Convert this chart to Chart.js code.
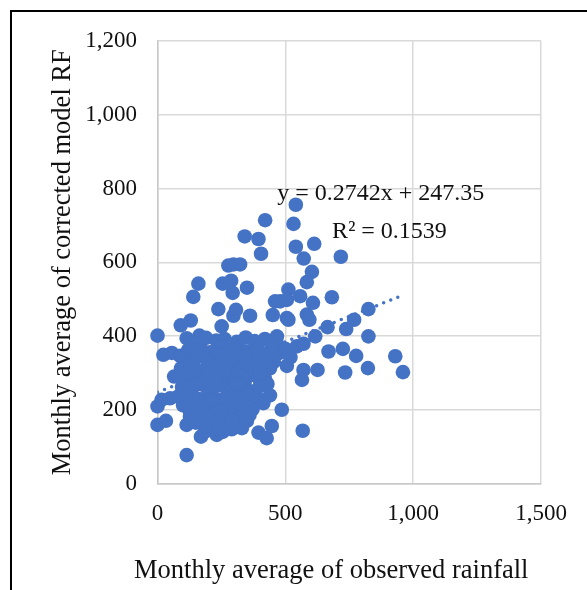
<!DOCTYPE html>
<html>
<head>
<meta charset="utf-8">
<script src="https://cdn.jsdelivr.net/npm/chart.js@4/dist/chart.umd.min.js"></script>
<style>
  html, body { margin: 0; padding: 0; background: #fff; overflow: hidden; }
  #frame {
    position: absolute; left: 10px; top: 10px; width: 700px; height: 700px;
    border: 2px solid #000; box-sizing: border-box;
  }
  #chart { position: absolute; left: 0; top: 0; }
</style>
</head>
<body>
<div id="frame"></div>
<canvas id="chart" width="587" height="590"></canvas>
<script>
// monthly averages: observed rainfall (x) vs corrected model RF (y)
const observed = [
  0, 0, 0, 33, 23, 56, 65, 114, 170, 232, 290, 395, 427, 447, 486, 440, 414, 506, 565, 571,
  626, 568, 473, 512, 669, 725, 734, 777, 823, 960, 930, 825, 825, 769, 738, 665, 617, 545, 571, 584,
  594, 682, 604, 584, 608, 558, 512, 460, 480, 506, 541, 421, 532, 341, 395, 405, 541, 613, 572, 717,
  277, 297, 323, 160, 140, 255, 288, 294, 350, 238, 307, 297, 362, 451, 506, 130, 91, 251, 114, 164,
  467, 16, 49, 81, 127, 114, 401, 401, 464, 477, 88,
  190, 230, 262, 310, 345, 380, 420, 445, 150,
  120, 168, 205, 248, 280, 318, 352, 392, 430, 500,
  100, 140, 185, 222, 262, 298, 335, 372, 410, 455, 520,
  92, 132, 172, 210, 245, 282, 320, 360, 395, 440,
  108, 150, 190, 228, 268, 305, 342, 378, 420, 430,
  96, 135, 175, 212, 250, 290, 330, 365, 400,
  118, 158, 198, 238, 275, 315, 352, 390,
  100, 140, 180, 220, 260, 300, 338, 372,
  128, 168, 205, 245, 285, 320, 360,
  150, 195, 235, 270, 312, 350,
  255, 330,
  160, 240, 300, 380, 200, 280, 350, 120, 200, 260,
  330, 155, 230, 310, 120, 210, 290, 170, 250, 330,
  400, 420, 230, 185, 290
];
const corrected = [
  401, 209, 159, 170, 349, 354, 290, 77, 127, 132, 147, 138, 123, 156, 200, 239, 218, 319, 281, 308,
  308, 143, 354, 444, 358, 365, 301, 346, 313, 302, 345, 399, 473, 444, 419, 424, 399, 372, 379, 458,
  444, 505, 574, 546, 490, 508, 526, 494, 494, 498, 756, 714, 704, 670, 663, 623, 642, 650, 610, 615,
  591, 594, 594, 542, 506, 542, 550, 517, 531, 473, 471, 455, 455, 457, 449, 442, 429, 426, 394, 401,
  399, 227, 231, 236, 181, 159, 317, 281, 390, 354, 346,
  395, 388, 392, 384, 396, 386, 392, 380, 380,
  362, 368, 356, 372, 360, 368, 358, 366, 352, 365,
  338, 330, 342, 334, 340, 328, 344, 332, 340, 330, 342,
  312, 318, 306, 320, 304, 316, 302, 318, 305, 312,
  288, 292, 280, 294, 282, 290, 278, 294, 284, 270,
  262, 258, 268, 254, 266, 252, 262, 250, 264,
  238, 230, 242, 228, 240, 226, 238, 232,
  212, 206, 218, 204, 214, 200, 210, 202,
  190, 182, 194, 178, 188, 176, 186,
  165, 158, 168, 155, 162, 170,
  140, 150,
  350, 350, 352, 350, 325, 335, 325, 300, 298, 305,
  290, 270, 275, 270, 222, 228, 220, 200, 196, 232,
  300, 330, 150, 140, 170
];

// linear trendline
const slope = 0.2742;
const intercept = 247.35;
const rSquared = 0.1539;

const xTicks = [0, 500, 1000, 1500];
const yTicks = [0, 200, 400, 600, 800, 1000, 1200];

const xTitle = 'Monthly average of observed rainfall';
const yTitle = 'Monthly average of corrected model RF';
const equationText = `y = ${slope}x + ${intercept}`;
const rSquaredText = `R² = ${rSquared}`;

const blue = '#4472C4';
const serif = '"Liberation Serif", "Times New Roman", serif';

const points = observed.map((x, i) => ({ x: x, y: corrected[i] }));
const xMin = Math.min(...observed);
const xMax = Math.max(...observed);
const trend = [
  { x: xMin, y: slope * xMin + intercept },
  { x: xMax, y: slope * xMax + intercept }
];

const fmt = v => v.toLocaleString('en-US');

// equation labels and axis titles
const textLabels = {
  id: 'textLabels',
  afterDraw(chart) {
    const { ctx, chartArea, scales } = chart;
    ctx.save();
    ctx.fillStyle = '#111';
    ctx.textBaseline = 'middle';
    ctx.textAlign = 'left';
    ctx.font = '24px ' + serif;
    ctx.fillText(equationText, scales.x.getPixelForValue(468), scales.y.getPixelForValue(787));
    ctx.fillText(rSquaredText, scales.x.getPixelForValue(683), scales.y.getPixelForValue(683));

    ctx.textAlign = 'center';
    ctx.font = '26.5px ' + serif;
    ctx.fillText(xTitle, (chartArea.left + chartArea.right) / 2 - 18, chartArea.bottom + 88);
    ctx.translate(63, (chartArea.top + chartArea.bottom) / 2);
    ctx.rotate(-Math.PI / 2);
    ctx.fillText(yTitle, 0, 0);
    ctx.restore();
  }
};

new Chart(document.getElementById('chart'), {
  type: 'scatter',
  data: {
    datasets: [{
      data: points,
      backgroundColor: blue,
      borderWidth: 0,
      pointRadius: 7.3,
      pointHoverRadius: 7.3,
      clip: false
    }, {
      type: 'line',
      data: trend,
      borderColor: blue,
      borderWidth: 3.5,
      borderDash: [0, 7.6],
      borderCapStyle: 'round',
      pointRadius: 0,
      fill: false
    }]
  },
  options: {
    responsive: false,
    animation: false,
    events: [],
    layout: { padding: { top: 41, right: 46, bottom: 0, left: 0 } },
    plugins: { legend: { display: false }, tooltip: { enabled: false } },
    scales: {
      x: {
        type: 'linear',
        min: xTicks[0],
        max: xTicks[xTicks.length - 1],
        afterBuildTicks: s => { s.ticks = xTicks.map(v => ({ value: v })); },
        afterFit: s => { s.height = 106.5; },
        grid: { color: '#d9d9d9', lineWidth: 1.5, drawTicks: false },
        border: { color: '#c8c8c8', width: 1.5 },
        ticks: { padding: 17, color: '#111', font: { family: serif, size: 23 }, callback: fmt, maxRotation: 0 }
      },
      y: {
        type: 'linear',
        min: yTicks[0],
        max: yTicks[yTicks.length - 1],
        afterBuildTicks: s => { s.ticks = yTicks.map(v => ({ value: v })); },
        afterFit: s => { s.width = 157.5; },
        grid: { color: '#d9d9d9', lineWidth: 1.5, drawTicks: false },
        border: { color: '#c8c8c8', width: 1.5 },
        ticks: { padding: 20.5, color: '#111', font: { family: serif, size: 23 }, callback: fmt }
      }
    }
  },
  plugins: [textLabels]
});
</script>
</body>
</html>
